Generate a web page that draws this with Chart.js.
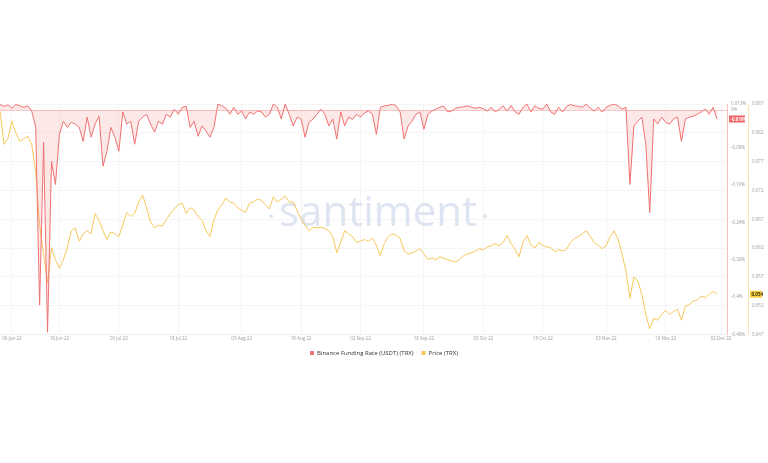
<!DOCTYPE html>
<html>
<head>
<meta charset="utf-8">
<script src="https://cdn.jsdelivr.net/npm/chart.js@4/dist/chart.umd.min.js"></script>
<style>
  html, body { margin: 0; padding: 0; background: #fff; }
  #wrap { width: 768px; height: 463px; }
</style>
</head>
<body>
<div id="wrap"><canvas id="chart" width="768" height="463"></canvas></div>
<script>
// x axis: one point per day, day 0 = 03 Jun 22
const tickDays = [3, 15, 30, 45, 61, 76, 91, 107, 122, 137, 153, 168, 182];
const tickLabels = ["06 Jun 22", "18 Jun 22", "03 Jul 22", "18 Jul 22", "03 Aug 22", "18 Aug 22",
  "02 Sep 22", "18 Sep 22", "03 Oct 22", "18 Oct 22", "03 Nov 22", "18 Nov 22", "02 Dec 22"];

// Binance funding rate (USDT) for TRX, in %
const fundingRate = [
  0.012, 0.008, 0.011, 0.004, 0.012, 0.009, 0.006, 0.009, -0.002, -0.036,
  -0.417, -0.069, -0.475, -0.110, -0.159, -0.052, -0.024, -0.037, -0.026, -0.030,
  -0.037, -0.067, -0.015, -0.058, -0.030, -0.013, -0.120, -0.088, -0.037, -0.058,
  -0.088, -0.004, -0.030, -0.024, -0.073, -0.024, -0.015, -0.009, -0.030, -0.047,
  -0.024, -0.030, -0.009, -0.015, 0.002, -0.009, 0.006, 0.008, -0.037, -0.024,
  -0.056, -0.034, -0.045, -0.058, -0.037, 0.013, 0.009, 0.004, -0.009, 0.006,
  -0.009, -0.002, -0.019, -0.004, -0.009, -0.002, -0.004, -0.015, -0.009, 0.013,
  0.006, -0.019, 0.013, -0.009, -0.034, -0.015, -0.019, -0.058, -0.026, -0.019,
  -0.009, 0.002, -0.009, -0.034, -0.019, -0.062, -0.004, -0.034, -0.015, -0.020,
  -0.009, -0.015, -0.006, -0.002, -0.009, -0.052, 0.006, 0.009, 0.010, 0.013,
  0.009, -0.004, -0.062, -0.034, -0.024, -0.009, -0.004, -0.041, -0.009, -0.002,
  0.002, 0.006, 0.009, -0.004, -0.002, 0.004, 0.006, 0.007, 0.009, 0.006,
  0.004, 0.006, 0.003, -0.002, 0.006, -0.004, 0.002, 0.009, -0.002, 0.010,
  -0.004, -0.009, 0.006, 0.013, -0.004, 0.009, 0.004, 0.002, 0.013, -0.004,
  -0.009, 0.006, -0.004, 0.008, 0.012, 0.009, 0.008, 0.006, 0.013, 0.004,
  -0.002, 0.006, -0.004, 0.006, 0.010, 0.013, 0.009, 0.002, 0.006, -0.159,
  -0.034, -0.024, -0.015, -0.073, -0.219, -0.019, -0.030, -0.015, -0.026, -0.030,
  -0.019, -0.015, -0.067, -0.019, -0.015, -0.013, -0.009, -0.004, 0.002, -0.009,
  0.006, -0.019
];

// TRX price, USD
const price = [
  0.0858, 0.0800, 0.0810, 0.0840, 0.0820, 0.0805, 0.0810, 0.0814, 0.0800, 0.0752,
  0.0660, 0.0610, 0.0560, 0.0621, 0.0600, 0.0585, 0.0600, 0.0621, 0.0650, 0.0655,
  0.0632, 0.0645, 0.0650, 0.0645, 0.0680, 0.0668, 0.0650, 0.0635, 0.0648, 0.0645,
  0.0640, 0.0660, 0.0682, 0.0675, 0.0680, 0.0700, 0.0712, 0.0690, 0.0665, 0.0655,
  0.0660, 0.0658, 0.0670, 0.0680, 0.0688, 0.0695, 0.0698, 0.0680, 0.0690, 0.0686,
  0.0675, 0.0668, 0.0650, 0.0640, 0.0670, 0.0686, 0.0695, 0.0707, 0.0700, 0.0698,
  0.0690, 0.0686, 0.0682, 0.0698, 0.0700, 0.0705, 0.0703, 0.0695, 0.0688, 0.0709,
  0.0700, 0.0705, 0.0710, 0.0700, 0.0700, 0.0685, 0.0670, 0.0660, 0.0650, 0.0656,
  0.0655, 0.0656, 0.0654, 0.0650, 0.0640, 0.0612, 0.0630, 0.0650, 0.0645, 0.0640,
  0.0630, 0.0632, 0.0635, 0.0632, 0.0637, 0.0625, 0.0607, 0.0628, 0.0640, 0.0645,
  0.0642, 0.0637, 0.0615, 0.0610, 0.0612, 0.0615, 0.0619, 0.0610, 0.0600, 0.0603,
  0.0600, 0.0605, 0.0602, 0.0600, 0.0598, 0.0596, 0.0600, 0.0607, 0.0610, 0.0612,
  0.0615, 0.0619, 0.0617, 0.0622, 0.0624, 0.0628, 0.0624, 0.0630, 0.0642, 0.0628,
  0.0618, 0.0605, 0.0630, 0.0642, 0.0625, 0.0620, 0.0630, 0.0625, 0.0622, 0.0621,
  0.0614, 0.0617, 0.0615, 0.0618, 0.0630, 0.0637, 0.0640, 0.0645, 0.0650, 0.0640,
  0.0630, 0.0625, 0.0619, 0.0624, 0.0640, 0.0650, 0.0635, 0.0610, 0.0580, 0.0533,
  0.0570, 0.0563, 0.0540, 0.0505, 0.0480, 0.0498, 0.0495, 0.0505, 0.0512, 0.0505,
  0.0510, 0.0514, 0.0495, 0.0519, 0.0522, 0.0528, 0.0530, 0.0537, 0.0534, 0.0540,
  0.0545, 0.0540
];

const fundingTicks = [0.013, 0, -0.08, -0.16, -0.24, -0.32, -0.4, -0.48];
const priceTicks = [0.047, 0.052, 0.057, 0.062, 0.067, 0.072, 0.077, 0.082, 0.087];

const FONT = "'Open Sans', 'Noto Sans', sans-serif";
const RED = "#ef7272";
const YELLOW = "#f6c85c";

// faint "santiment" mark behind the lines
const watermark = {
  id: "watermark",
  beforeDatasetsDraw(chart) {
    const { ctx, chartArea } = chart;
    const cx = chartArea.left + chartArea.width * 0.52;
    const base = chartArea.top + chartArea.height * 0.53;
    ctx.save();
    ctx.font = "400 42px " + FONT;
    ctx.fillStyle = "rgba(208, 217, 235, 0.7)";
    ctx.textAlign = "center";
    ctx.textBaseline = "alphabetic";
    ctx.fillText("santiment", cx, base);
    const half = ctx.measureText("santiment").width / 2;
    ctx.beginPath();
    ctx.arc(cx - half - 8, base - 10, 2, 0, Math.PI * 2);
    ctx.arc(cx + half + 8, base - 10, 2, 0, Math.PI * 2);
    ctx.fill();
    ctx.restore();
  },
};

// last-value tags on the two right axes
function drawTag(ctx, x, y, w, text, bg, fg) {
  ctx.fillStyle = bg;
  ctx.fillRect(x, y - 3.5, w, 7);
  ctx.fillStyle = fg;
  ctx.font = "bold 4.5px " + FONT;
  ctx.textAlign = "left";
  ctx.textBaseline = "middle";
  ctx.fillText(text, x + 1.5, y + 0.3);
}

const lastTags = {
  id: "lastTags",
  afterDraw(chart) {
    const ctx = chart.ctx;
    const fy = chart.scales.yFunding;
    const py = chart.scales.yPrice;
    const lastF = fundingRate[fundingRate.length - 1];
    const lastP = price[price.length - 1];
    ctx.save();
    drawTag(ctx, fy.left + 2, fy.getPixelForValue(lastF), 16, lastF.toFixed(3) + "%", "#ee6464", "#fff");
    drawTag(ctx, py.left + 2, py.getPixelForValue(lastP), 12, lastP.toFixed(3), "#f7cf45", "#3a3000");
    ctx.restore();
  },
};

const tickFont = { size: 4.5, family: FONT };

new Chart(document.getElementById("chart").getContext("2d"), {
  type: "line",
  data: {
    datasets: [
      {
        label: "Binance Funding Rate (USDT) (TRX)",
        data: fundingRate.map((v, i) => ({ x: i, y: v })),
        yAxisID: "yFunding",
        borderColor: RED,
        borderWidth: 1,
        backgroundColor: "rgba(246, 140, 140, 0.2)",
        fill: { target: { value: 0 } },
        pointRadius: 0,
        tension: 0,
      },
      {
        label: "Price (TRX)",
        data: price.map((v, i) => ({ x: i, y: v })),
        yAxisID: "yPrice",
        borderColor: YELLOW,
        borderWidth: 1,
        backgroundColor: YELLOW,
        fill: false,
        pointRadius: 0,
        tension: 0,
      },
    ],
  },
  options: {
    responsive: false,
    animation: false,
    layout: { padding: { top: 104, bottom: 97, left: 0, right: 0 } },
    plugins: {
      tooltip: { enabled: false },
      legend: {
        position: "bottom",
        labels: {
          boxWidth: 4,
          boxHeight: 4,
          padding: 8,
          color: "#333",
          font: { size: 6, family: FONT },
          generateLabels(chart) {
            return chart.data.datasets.map((ds, i) => ({
              text: ds.label,
              fillStyle: ds.borderColor,
              strokeStyle: ds.borderColor,
              lineWidth: 0,
              datasetIndex: i,
              fontColor: "#333",
            }));
          },
        },
      },
    },
    scales: {
      x: {
        type: "linear",
        min: 0,
        max: 183.5,
        grid: { color: "#f4f4f4", drawTicks: false },
        border: { color: "#efefef" },
        afterBuildTicks: (scale) => {
          scale.ticks = tickDays.map((d) => ({ value: d }));
        },
        ticks: {
          autoSkip: false,
          maxRotation: 0,
          padding: 1,
          color: "#9a9a9a",
          font: tickFont,
          callback: (v) => tickLabels[tickDays.indexOf(v)],
        },
      },
      yFunding: {
        position: "right",
        weight: 0,
        min: -0.48,
        max: 0.013,
        grid: {
          drawTicks: false,
          color: (c) => (c.tick && c.tick.value === 0 ? "rgba(240, 130, 130, 0.45)" : "rgba(0,0,0,0)"),
        },
        border: { color: "rgba(240, 140, 140, 0.55)" },
        afterBuildTicks: (scale) => {
          scale.ticks = fundingTicks.map((v) => ({ value: v }));
        },
        afterFit: (scale) => {
          scale.width = 21;
        },
        ticks: {
          padding: 4,
          color: "#9a9a9a",
          font: tickFont,
          callback: (v) => v + "%",
        },
      },
      yPrice: {
        position: "right",
        weight: 1,
        min: 0.047,
        max: 0.087,
        grid: { drawTicks: false, color: "#f5f5f5" },
        border: { color: "rgba(246, 210, 120, 0.55)" },
        afterBuildTicks: (scale) => {
          scale.ticks = priceTicks.map((v) => ({ value: v }));
        },
        afterFit: (scale) => {
          scale.width = 20;
        },
        ticks: {
          padding: 4,
          color: "#9a9a9a",
          font: tickFont,
          callback: (v) => v.toFixed(3),
        },
      },
    },
  },
  plugins: [watermark, lastTags],
});
</script>
</body>
</html>
